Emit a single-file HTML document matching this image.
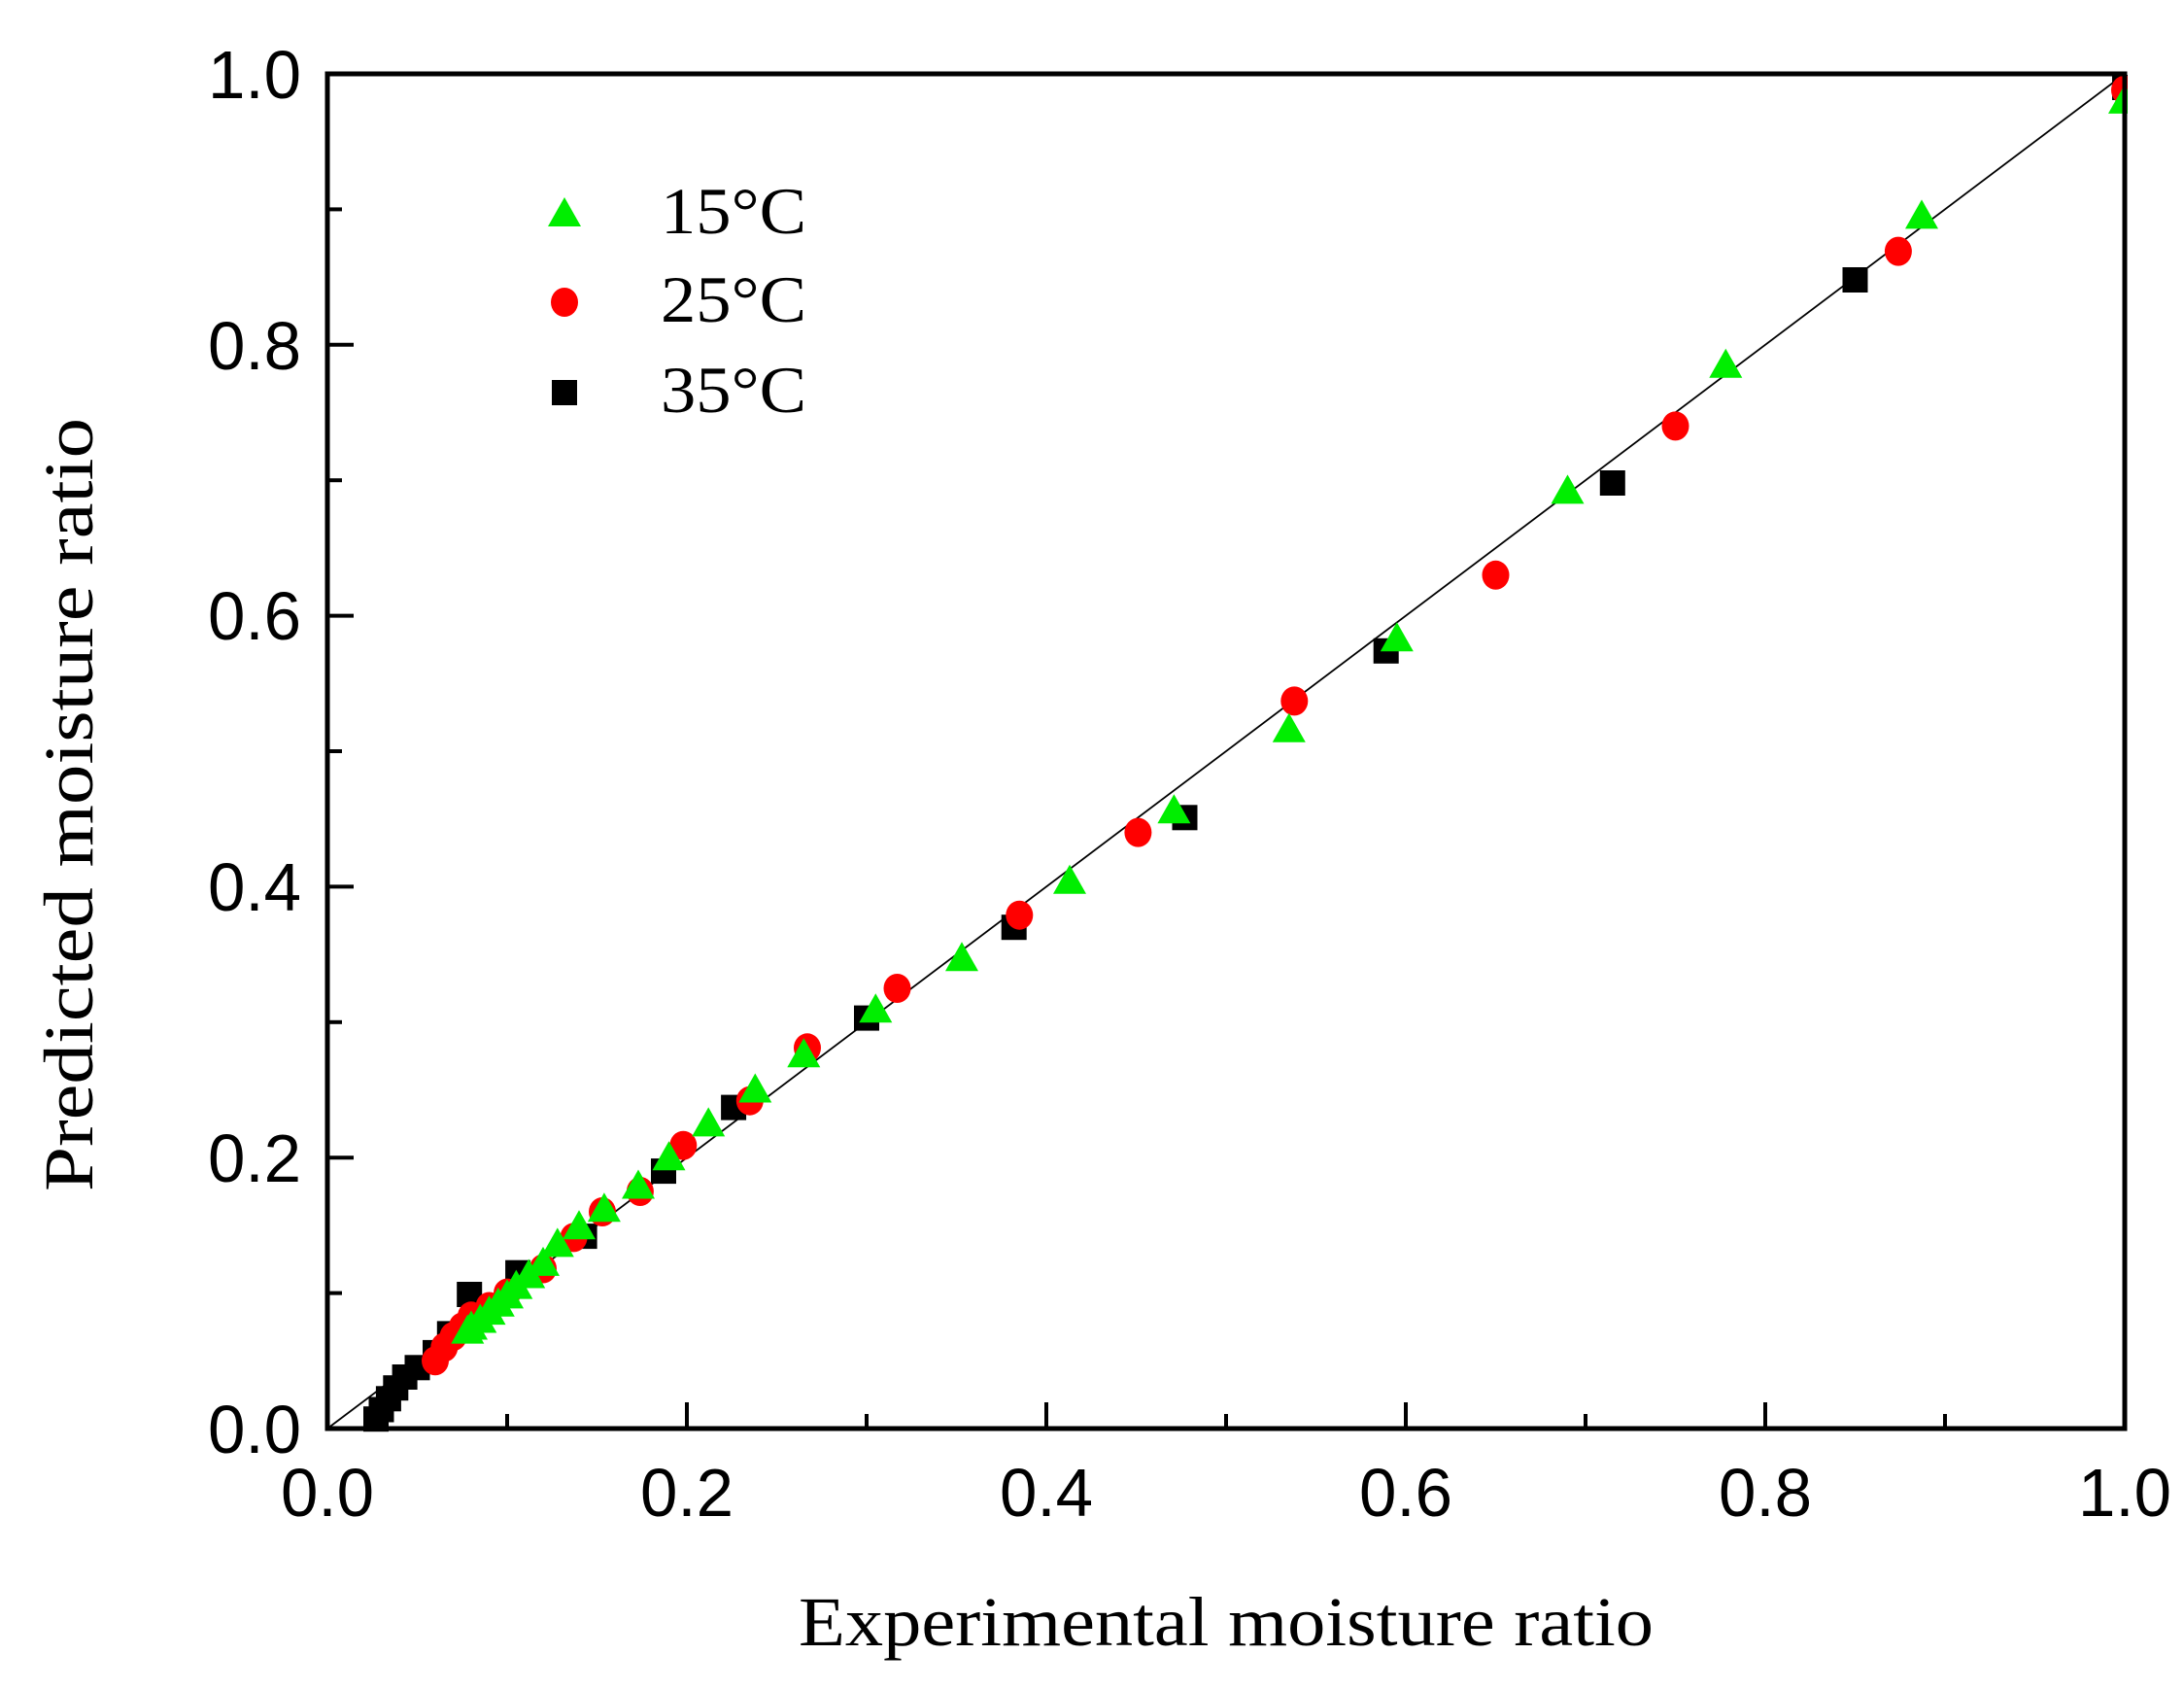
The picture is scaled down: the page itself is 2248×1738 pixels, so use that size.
<!DOCTYPE html>
<html><head><meta charset="utf-8"><style>
html,body{margin:0;padding:0;background:#fff;}
svg{display:block;}
.tk{font-family:"Liberation Sans",sans-serif;font-size:70px;fill:#000;}
.sr{font-family:"Liberation Serif",serif;fill:#000;}
</style></head><body>
<svg width="2248" height="1738" viewBox="0 0 2248 1738" xmlns="http://www.w3.org/2000/svg">
<defs>
<rect id="sq" x="-13" y="-13" width="26" height="26" fill="#000"/>
<ellipse id="ci" cx="0" cy="0" rx="14" ry="15" fill="#ff0000"/>
<polygon id="tr" points="0,-17 -17,13 17,13" fill="#00ee00"/>
</defs>
<rect width="2248" height="1738" fill="#fff"/>
<line x1="337" y1="1470" x2="2187" y2="76" stroke="#000" stroke-width="1.8"/>
<g>
<use href="#sq" x="2187" y="90"/><use href="#sq" x="1909.5" y="288"/><use href="#sq" x="1659.8" y="497"/><use href="#sq" x="1426.7" y="669.8"/><use href="#sq" x="1219.5" y="841.3"/><use href="#sq" x="1043.7" y="954.2"/><use href="#sq" x="892" y="1047.6"/><use href="#sq" x="755.1" y="1139.6"/><use href="#sq" x="683" y="1205.1"/><use href="#sq" x="601.6" y="1272.1"/><use href="#sq" x="533.1" y="1309.7"/><use href="#sq" x="483.2" y="1332"/><use href="#sq" x="462.8" y="1372.4"/><use href="#sq" x="448" y="1391.9"/><use href="#sq" x="429.5" y="1407.3"/><use href="#sq" x="416.6" y="1417"/><use href="#sq" x="407.3" y="1428.2"/><use href="#sq" x="399.9" y="1439.3"/><use href="#sq" x="392.5" y="1450.5"/><use href="#sq" x="387" y="1460.2"/>
</g>
<g>
<use href="#ci" x="2187" y="92.7"/><use href="#ci" x="1953.9" y="258.6"/><use href="#ci" x="1724.5" y="438.4"/><use href="#ci" x="1539.5" y="591.8"/><use href="#ci" x="1332.3" y="721.4"/><use href="#ci" x="1171.4" y="856.6"/><use href="#ci" x="1049.3" y="941.7"/><use href="#ci" x="923.5" y="1017"/><use href="#ci" x="831" y="1078.3"/><use href="#ci" x="771.8" y="1132.7"/><use href="#ci" x="703.3" y="1178.7"/><use href="#ci" x="658.9" y="1226"/><use href="#ci" x="620" y="1247"/><use href="#ci" x="590.5" y="1273.4"/><use href="#ci" x="559" y="1305.5"/><use href="#ci" x="522" y="1330.6"/><use href="#ci" x="503.5" y="1344.5"/><use href="#ci" x="485" y="1354.3"/><use href="#ci" x="475.8" y="1365.5"/><use href="#ci" x="466.5" y="1375.2"/><use href="#ci" x="457.3" y="1386.4"/><use href="#ci" x="448" y="1400.3"/>
</g>
<g>
<use href="#tr" x="2187" y="103.9"/><use href="#tr" x="1978" y="222.4"/><use href="#tr" x="1776.3" y="375.7"/><use href="#tr" x="1613.5" y="505.4"/><use href="#tr" x="1437.8" y="657.3"/><use href="#tr" x="1326.8" y="750.7"/><use href="#tr" x="1208.4" y="834.3"/><use href="#tr" x="1101" y="906.8"/><use href="#tr" x="990" y="986.3"/><use href="#tr" x="901.3" y="1039.3"/><use href="#tr" x="827.3" y="1085.3"/><use href="#tr" x="777.3" y="1121.5"/><use href="#tr" x="729.2" y="1156.4"/><use href="#tr" x="688.5" y="1191.2"/><use href="#tr" x="657" y="1220.5"/><use href="#tr" x="621.9" y="1244.2"/><use href="#tr" x="596" y="1262.3"/><use href="#tr" x="573.8" y="1280.4"/><use href="#tr" x="559" y="1299.9"/><use href="#tr" x="544.2" y="1312.5"/><use href="#tr" x="531.3" y="1323.6"/><use href="#tr" x="522" y="1333.4"/><use href="#tr" x="512.8" y="1341.8"/><use href="#tr" x="503.5" y="1350.1"/><use href="#tr" x="494.3" y="1358.5"/><use href="#tr" x="485" y="1365.5"/><use href="#tr" x="481.3" y="1369.6"/>
</g>
<rect x="2190" y="0" width="58" height="1470" fill="#fff"/>
<rect x="337" y="0" width="1853" height="73" fill="#fff"/>
<rect x="337" y="76" width="1850" height="1394" fill="none" stroke="#000" stroke-width="5"/>
<g stroke="#000" stroke-width="4">
<line x1="522" y1="1470" x2="522" y2="1455"/><line x1="707" y1="1470" x2="707" y2="1443"/><line x1="892" y1="1470" x2="892" y2="1455"/><line x1="1077" y1="1470" x2="1077" y2="1443"/><line x1="1262" y1="1470" x2="1262" y2="1455"/><line x1="1447" y1="1470" x2="1447" y2="1443"/><line x1="1632" y1="1470" x2="1632" y2="1455"/><line x1="1817" y1="1470" x2="1817" y2="1443"/><line x1="2002" y1="1470" x2="2002" y2="1455"/>
<line x1="337" y1="1330.6" x2="352" y2="1330.6"/><line x1="337" y1="1191.2" x2="364" y2="1191.2"/><line x1="337" y1="1051.8" x2="352" y2="1051.8"/><line x1="337" y1="912.4" x2="364" y2="912.4"/><line x1="337" y1="773" x2="352" y2="773"/><line x1="337" y1="633.6" x2="364" y2="633.6"/><line x1="337" y1="494.2" x2="352" y2="494.2"/><line x1="337" y1="354.8" x2="364" y2="354.8"/><line x1="337" y1="215.4" x2="352" y2="215.4"/>
</g>
<g class="tk" text-anchor="middle">
<text x="337" y="1560" textLength="96" lengthAdjust="spacingAndGlyphs">0.0</text><text x="707" y="1560" textLength="96" lengthAdjust="spacingAndGlyphs">0.2</text><text x="1077" y="1560" textLength="96" lengthAdjust="spacingAndGlyphs">0.4</text><text x="1447" y="1560" textLength="96" lengthAdjust="spacingAndGlyphs">0.6</text><text x="1817" y="1560" textLength="96" lengthAdjust="spacingAndGlyphs">0.8</text><text x="2187" y="1560" textLength="96" lengthAdjust="spacingAndGlyphs">1.0</text>
</g>
<g class="tk" text-anchor="end">
<text x="310" y="1495" textLength="96" lengthAdjust="spacingAndGlyphs">0.0</text><text x="310" y="1216" textLength="96" lengthAdjust="spacingAndGlyphs">0.2</text><text x="310" y="937" textLength="96" lengthAdjust="spacingAndGlyphs">0.4</text><text x="310" y="658" textLength="96" lengthAdjust="spacingAndGlyphs">0.6</text><text x="310" y="380" textLength="96" lengthAdjust="spacingAndGlyphs">0.8</text><text x="310" y="101" textLength="96" lengthAdjust="spacingAndGlyphs">1.0</text>
</g>
<text class="sr" x="1262" y="1693" font-size="72" text-anchor="middle" textLength="880" lengthAdjust="spacingAndGlyphs">Experimental moisture ratio</text>
<text class="sr" transform="translate(95,828) rotate(-90)" font-size="72" text-anchor="middle" textLength="796" lengthAdjust="spacingAndGlyphs">Predicted moisture ratio</text>
<use href="#tr" x="581" y="220"/><use href="#ci" x="581" y="311"/><use href="#sq" x="581" y="404"/>
<text class="sr" x="680" y="240" font-size="68" textLength="150" lengthAdjust="spacingAndGlyphs">15°C</text>
<text class="sr" x="680" y="331" font-size="68" textLength="150" lengthAdjust="spacingAndGlyphs">25°C</text>
<text class="sr" x="680" y="424" font-size="68" textLength="150" lengthAdjust="spacingAndGlyphs">35°C</text>
</svg>
</body></html>
